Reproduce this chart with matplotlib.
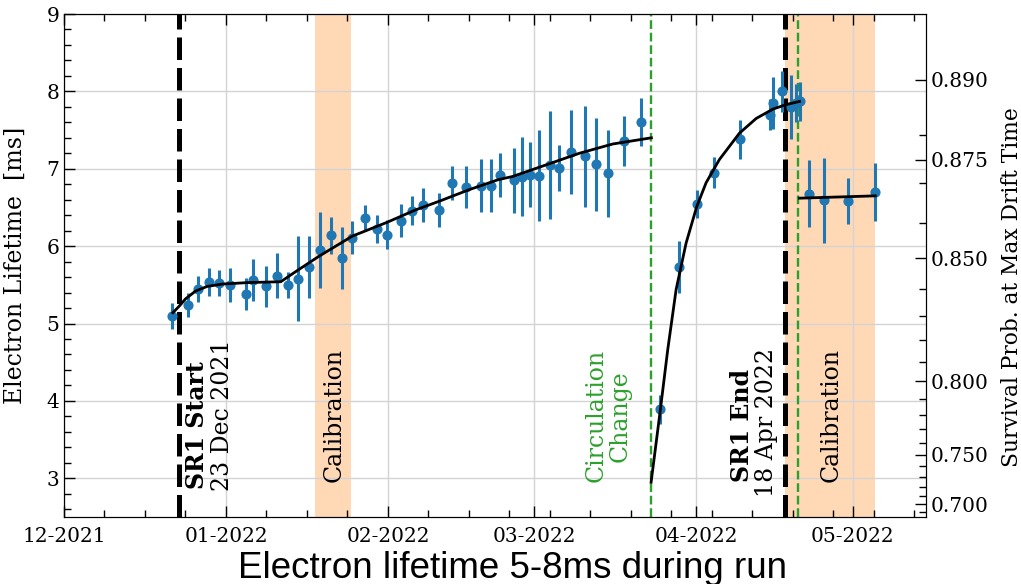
import numpy as np
import matplotlib
matplotlib.use("Agg")
import matplotlib.pyplot as plt
import matplotlib.dates as mdates
from matplotlib.ticker import AutoMinorLocator, FixedLocator, NullFormatter

plt.rcParams['font.family'] = ['DejaVu Serif']

# ---------------- data (days since 2022-01-01) ----------------
BASE = '2022-01-01'

# measured electron lifetime points [ms]
pt_days = [-10.29, -7.22, -5.31, -3.26, -1.34, 0.71, 3.77, 5.12, 7.72, 9.77,
           11.94, 13.74, 15.90, 17.95, 20.12, 22.23, 24.20, 26.58, 28.88, 30.85,
           33.59, 35.70, 37.75, 40.76, 43.36, 45.99, 48.80, 50.64, 52.50, 55.05,
           56.66, 58.25, 59.84, 62.02, 63.67, 65.97, 68.79, 70.84, 73.14, 76.13,
           79.38,
           83.16, 86.67, 90.11, 93.45, 98.43, 104.18, 104.68, 106.48, 108.20,
           109.16, 109.79,
           111.52, 114.45, 119.0, 124.3]
pt_tau = [5.10, 5.24, 5.45, 5.54, 5.52, 5.50, 5.38, 5.56, 5.48, 5.62,
          5.50, 5.58, 5.73, 5.95, 6.14, 5.85, 6.11, 6.36, 6.22, 6.15,
          6.33, 6.46, 6.53, 6.47, 6.82, 6.76, 6.78, 6.78, 6.92, 6.85,
          6.90, 6.92, 6.91, 7.05, 7.01, 7.22, 7.16, 7.06, 6.94, 7.36,
          7.61,
          3.89, 5.73, 6.54, 6.95, 7.38, 7.70, 7.85, 8.00, 7.80,
          7.85, 7.87,
          6.68, 6.59, 6.58, 6.70]
pt_err = [0.17, 0.16, 0.17, 0.18, 0.17, 0.22, 0.21, 0.27, 0.27, 0.29,
          0.17, 0.55, 0.40, 0.49, 0.24, 0.40, 0.21, 0.17, 0.18, 0.19,
          0.21, 0.19, 0.22, 0.22, 0.22, 0.27, 0.34, 0.34, 0.29, 0.42,
          0.51, 0.42, 0.59, 0.70, 0.30, 0.54, 0.65, 0.60, 0.56, 0.32,
          0.31,
          0.19, 0.34, 0.18, 0.20, 0.25, 0.20, 0.33, 0.26, 0.41,
          0.25, 0.25,
          0.43, 0.55, 0.30, 0.38]

# fitted model curves
fit1_days = [-10.16, -9.01, -7.72, -5.81, -3.58, -0.71, 4.41, 10.48, 13.99, 17.82,
             24.20, 30.91, 36.35, 40.81, 46.56, 52.17, 54.86, 61.26, 67.64, 74.02, 81.43]
fit1_tau = [5.14, 5.22, 5.32, 5.42, 5.48, 5.51, 5.53, 5.54, 5.70, 5.87,
            6.13, 6.31, 6.47, 6.58, 6.73, 6.86, 6.90, 7.05, 7.20, 7.32, 7.40]
fit2_days = [81.38, 83.16, 84.56, 86.17, 88.08, 90.11, 91.91, 94.46, 98.29, 101.49,
             104.67, 107.24, 109.79]
fit2_tau = [2.95, 3.89, 4.66, 5.44, 6.04, 6.51, 6.82, 7.12, 7.46, 7.65,
            7.77, 7.83, 7.87]
fit3_days = [109.79, 124.3]
fit3_tau = [6.62, 6.65]

# events
sr1_start = '2021-12-23'
sr1_end = '2022-04-18'
circ_changes = ['2022-03-23 10:00', '2022-04-20 12:00']
calib_periods = [('2022-01-18', '2022-01-25'), ('2022-04-18', '2022-05-05 05:00')]

# right axis: survival probability at max drift time
T_DRIFT = 0.95  # ms
p_major = [0.700, 0.750, 0.800, 0.850, 0.875, 0.890]
p_minor = [0.69, 0.71, 0.72, 0.73, 0.74, 0.76, 0.77, 0.78, 0.79, 0.81, 0.82,
           0.83, 0.84, 0.86, 0.87, 0.88, 0.90]

# ---------------- plotting ----------------
b = mdates.datestr2num(BASE)
d = lambda arr: b + np.asarray(arr, dtype=float)

fig = plt.figure(figsize=(10.21, 5.84), dpi=100)
ax = fig.add_axes([64/1021, 1-517/584, 862/1021, 503/584])

blue = '#1f77b4'
green = '#2ca02c'

for s, e in calib_periods:
    ax.axvspan(mdates.datestr2num(s), mdates.datestr2num(e), color='#ffd8b6', lw=0, zorder=0.3)

ax.axvline(mdates.datestr2num(sr1_start), color='k', lw=3.6, ls=(0, (4.5, 1.6)), zorder=2)
ax.axvline(mdates.datestr2num(sr1_end), color='k', lw=3.6, ls=(0, (4.5, 1.6)), zorder=2)
for c in circ_changes:
    ax.axvline(mdates.datestr2num(c), color=green, lw=1.7, ls='--', zorder=2.2)

ax.errorbar(d(pt_days), pt_tau, yerr=pt_err, fmt='o', color=blue, ms=6.3,
            elinewidth=2.2, capsize=0, zorder=3)
for fd, ft in [(fit1_days, fit1_tau), (fit2_days, fit2_tau), (fit3_days, fit3_tau)]:
    ax.plot(d(fd), ft, color='k', lw=2, zorder=4)

ax.set_xlim(mdates.datestr2num('2021-12-01'), mdates.datestr2num('2022-05-15'))
ax.set_ylim(2.5, 9)

ax.xaxis.set_major_locator(mdates.MonthLocator())
ax.xaxis.set_major_formatter(mdates.DateFormatter('%m-%Y'))
ax.xaxis.set_minor_locator(AutoMinorLocator(4))
ax.yaxis.set_minor_locator(AutoMinorLocator(5))
ax.set_axisbelow(True)
ax.grid(True, which='major', color='#d3d3d3', lw=1.0)
ax.tick_params(which='both', direction='in', top=True, right=False, labelsize=14.5)
ax.tick_params(which='major', length=8, width=1)
ax.tick_params(which='minor', length=5, width=1)
ax.tick_params(axis='x', pad=7)
ax.set_ylabel('Electron Lifetime  [ms]', fontsize=17)
ax.yaxis.set_label_coords(-0.043, 0.5)

ax2 = ax.twinx()
ax2.set_ylim(ax.get_ylim())
tau_of = lambda p: -T_DRIFT / np.log(np.asarray(p))
ax2.yaxis.set_major_locator(FixedLocator(tau_of(p_major)))
ax2.set_yticklabels([f'{p:.3f}' for p in p_major])
ax2.yaxis.set_minor_locator(FixedLocator(tau_of(p_minor)))
ax2.yaxis.set_minor_formatter(NullFormatter())
ax2.tick_params(which='both', direction='in', labelsize=14.5)
ax2.tick_params(which='major', length=8, width=1)
ax2.tick_params(which='minor', length=5, width=1)
ax2.set_ylabel('Survival Prob. at Max Drift Time', fontsize=15.7)
ax2.yaxis.set_label_coords(1.087, 0.457)

# annotations
tx = lambda s, off: mdates.datestr2num(s) + off
fs = 17
ax.text(tx(sr1_start, 3.5), 2.858, 'SR1 Start', rotation=90, ha='center', va='bottom',
        fontsize=fs, fontweight='bold')
ax.text(tx(sr1_start, 8.3), 2.836, '23 Dec 2021', rotation=90, ha='center', va='bottom',
        fontsize=fs)
ax.text(tx('2022-01-21', 0.7), 2.948, 'Calibration', rotation=90, ha='center', va='bottom',
        fontsize=fs)
ax.text(tx('2022-03-15', 0.15), 2.948, 'Circulation\nChange', rotation=90, ha='center',
        va='bottom', multialignment='center', fontsize=fs, color=green, linespacing=1.1)
ax.text(tx(sr1_end, -8.27), 2.948, 'SR1 End', rotation=90, ha='center', va='bottom',
        fontsize=fs, fontweight='bold')
ax.text(tx(sr1_end, -3.59), 2.755, '18 Apr 2022', rotation=90, ha='center', va='bottom',
        fontsize=fs)
ax.text(tx('2022-04-26', 0.9), 2.948, 'Calibration', rotation=90, ha='center', va='bottom',
        fontsize=fs)

fig.text(0.502, 0.0103, 'Electron lifetime 5-8ms during run', ha='center', va='baseline',
         fontsize=26.5, family='Liberation Sans')

fig.savefig('out.png', dpi=100)
